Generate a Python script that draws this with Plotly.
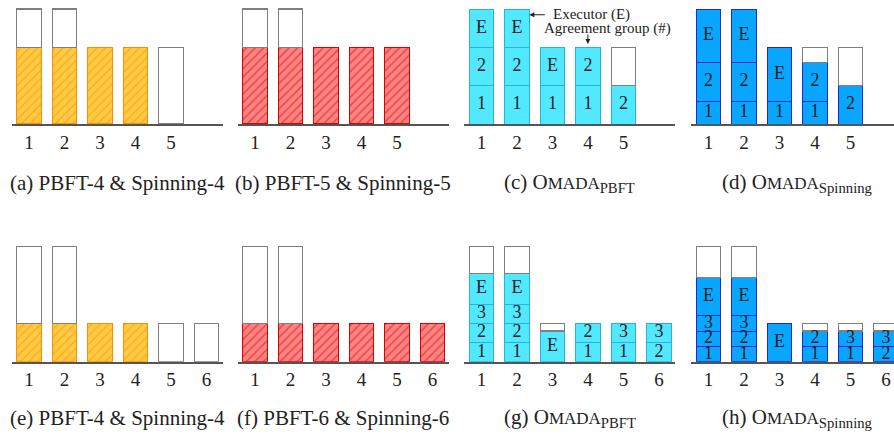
import plotly.graph_objects as go

# ---------------- data ----------------
slots5 = [1, 2, 3, 4, 5]
slots6 = [1, 2, 3, 4, 5, 6]

# (a) PBFT-4 & Spinning-4 (5 servers)
cap_a = [3, 3, 2, 2, 2]
used_a = [2, 2, 2, 2, 0]
# (b) PBFT-5 & Spinning-5
cap_b = [3, 3, 2, 2, 2]
used_b = [2, 2, 2, 2, 2]
# (c) OMADA_PBFT : stacked blocks per server (bottom -> top)
cap_c = [3, 3, 2, 2, 2]
blocks_c = [[1, 1, 1], [1, 1, 1], [1, 1], [1, 1], [1]]
labels_c = [["1", "2", "E"], ["1", "2", "E"], ["1", "E"], ["1", "2"], ["2"]]
# (d) OMADA_Spinning
cap_d = [3, 3, 2, 2, 2]
blocks_d = [[0.6, 1, 1.4], [0.6, 1, 1.4], [0.6, 1.4], [0.6, 1], [1]]
labels_d = [["1", "2", "E"], ["1", "2", "E"], ["1", "E"], ["1", "2"], ["2"]]

# (e) PBFT-4 & Spinning-4 (6 servers)
cap_e = [6, 6, 2, 2, 2, 2]
used_e = [2, 2, 2, 2, 0, 0]
# (f) PBFT-6 & Spinning-6
cap_f = [6, 6, 2, 2, 2, 2]
used_f = [2, 2, 2, 2, 2, 2]
# (g) OMADA_PBFT
cap_g = [6, 6, 2, 2, 2, 2]
blocks_g = [[1, 1, 1, 1.6], [1, 1, 1, 1.6], [1.6], [1, 1], [1, 1], [1, 1]]
labels_g = [["1", "2", "3", "E"], ["1", "2", "3", "E"], ["E"], ["1", "2"], ["1", "3"], ["2", "3"]]
# (h) OMADA_Spinning
cap_h = [6, 6, 2, 2, 2, 2]
blocks_h = [[0.8, 0.8, 0.8, 2], [0.8, 0.8, 0.8, 2], [2], [0.8, 0.8], [0.8, 0.8], [0.8, 0.8]]
labels_h = [["1", "2", "3", "E"], ["1", "2", "3", "E"], ["E"], ["1", "2"], ["1", "3"], ["2", "3"]]

SC = "<span style='font-size:17px'>MADA</span>"
captions = [
    "(a) PBFT-4 &amp; Spinning-4",
    "(b) PBFT-5 &amp; Spinning-5",
    "(c) O" + SC + "<sub>PBFT</sub>",
    "(d) O" + SC + "<sub>Spinning</sub>",
    "(e) PBFT-4 &amp; Spinning-4",
    "(f) PBFT-6 &amp; Spinning-6",
    "(g) O" + SC + "<sub>PBFT</sub>",
    "(h) O" + SC + "<sub>Spinning</sub>",
]

# ---------------- style ----------------
W, H = 894, 435
FONT = "Liberation Serif"
TXT = "#222222"
WHITE_LINE = "#7f7f7f"
ORANGE = dict(bg="#FFCB45", fg="#FF8C00", line="#FF8C00")
RED = dict(bg="#FF8585", fg="#DD0000", line="#DD0000")
CYAN = dict(bg="#52E8FF", line="#26B4DC")
BLUE = dict(bg="#08A6FF", line="#1A28DD")
BAR_W = 0.69

# pixel layout (window coordinates)
x_left = [11.7, 237.7, 464.0, 691.0]
x_right = [222.7, 448.7, 675.0, 894.0]
cap_center = [117.5, 343.2, 569.5, 797.0]
unit_px = 35.5
rows = [
    dict(base=124.0, unit=38.33, ymax=3.08, cap_y=182.5),
    dict(base=361.7, unit=19.17, ymax=6.2, cap_y=418.0),
]


def fx(px):
    return min(1.0, max(0.0, px / W))


def fy(py):
    return min(1.0, max(0.0, 1 - py / H))


fig = go.Figure()
layout = dict()


def axis_names(i):
    n = "" if i == 0 else str(i + 1)
    return "x" + n, "y" + n, "xaxis" + n, "yaxis" + n


def none0(v):
    return [None if (x is None or x <= 1e-9) else x for x in v]


def add_hatched(i, slots, cap, used, c):
    xr, yr, _, _ = axis_names(i)
    fig.add_trace(go.Bar(
        x=slots, y=none0(used), width=BAR_W, xaxis=xr, yaxis=yr,
        marker=dict(color=c["bg"], line=dict(color=c["line"], width=1.2),
                    pattern=dict(shape="/", fgcolor=c["fg"], bgcolor=c["bg"],
                                 size=6, solidity=0.25)),
        showlegend=False, hoverinfo="skip"))
    rem = [cp - u for cp, u in zip(cap, used)]
    fig.add_trace(go.Bar(
        x=slots, y=none0(rem), width=BAR_W, xaxis=xr, yaxis=yr,
        marker=dict(color="white", line=dict(color=WHITE_LINE, width=1.1)),
        showlegend=False, hoverinfo="skip"))


def add_blocks(i, slots, cap, blocks, labels, c):
    xr, yr, _, _ = axis_names(i)
    nlev = max(len(b) for b in blocks)
    for k in range(nlev):
        vals = [b[k] if k < len(b) else None for b in blocks]
        fig.add_trace(go.Bar(
            x=slots, y=none0(vals), width=BAR_W, xaxis=xr, yaxis=yr,
            marker=dict(color=c["bg"], line=dict(color=c["line"], width=1.0)),
            showlegend=False, hoverinfo="skip"))
    rem = [cp - sum(b) for cp, b in zip(cap, blocks)]
    fig.add_trace(go.Bar(
        x=slots, y=none0(rem), width=BAR_W, xaxis=xr, yaxis=yr,
        marker=dict(color="white", line=dict(color=WHITE_LINE, width=1.1)),
        showlegend=False, hoverinfo="skip"))
    tx, ty, tt = [], [], []
    for s, b, lab in zip(slots, blocks, labels):
        acc = 0
        for h, l in zip(b, lab):
            tx.append(s)
            ty.append(acc + h / 2)
            tt.append(l)
            acc += h
    fig.add_trace(go.Scatter(
        x=tx, y=ty, text=tt, mode="text", xaxis=xr, yaxis=yr, cliponaxis=False,
        textfont=dict(family=FONT, size=18, color=TXT),
        showlegend=False, hoverinfo="skip"))


add_hatched(0, slots5, cap_a, used_a, ORANGE)
add_hatched(1, slots5, cap_b, used_b, RED)
add_blocks(2, slots5, cap_c, blocks_c, labels_c, CYAN)
add_blocks(3, slots5, cap_d, blocks_d, labels_d, BLUE)
add_hatched(4, slots6, cap_e, used_e, ORANGE)
add_hatched(5, slots6, cap_f, used_f, RED)
add_blocks(6, slots6, cap_g, blocks_g, labels_g, CYAN)
add_blocks(7, slots6, cap_h, blocks_h, labels_h, BLUE)

annotations = []
for i in range(8):
    r = rows[i // 4]
    col = i % 4
    xr, yr, xa, ya = axis_names(i)
    right = x_right[col]
    width_units = (right - x_left[col]) / unit_px
    slots = slots5 if i < 4 else slots6
    layout[xa] = dict(
        domain=[fx(x_left[col]), fx(right)],
        range=[0.51, 0.51 + width_units],
        anchor=yr, showline=True, linecolor="#555555", linewidth=1.5,
        showgrid=False, zeroline=False, ticks="",
        tickmode="array", tickvals=slots, ticktext=[str(s) for s in slots],
        tickfont=dict(family=FONT, size=19, color=TXT), fixedrange=True,
    )
    top_px = r["base"] - r["ymax"] * r["unit"]
    layout[ya] = dict(
        domain=[fy(r["base"]), fy(top_px)],
        range=[0, r["ymax"]], anchor=xr, visible=False, fixedrange=True,
    )
    annotations.append(dict(
        xref="paper", yref="paper", x=fx(cap_center[col]), y=fy(r["cap_y"]),
        xanchor="center", yanchor="middle", showarrow=False, text=captions[i],
        font=dict(family=FONT, size=21, color=TXT)))

# callouts in panel (c)
annotations += [
    dict(xref="x3", yref="y3", x=2.35, y=2.85, ax=17, ay=0, text="",
         showarrow=True, arrowhead=2, arrowsize=1, arrowwidth=1, arrowcolor=TXT),
    dict(xref="x3", yref="y3", x=2.97, y=2.86, text="Executor (E)", xanchor="left",
         yanchor="middle", showarrow=False, font=dict(family=FONT, size=15, color=TXT)),
    dict(xref="x3", yref="y3", x=4.55, y=2.5, text="Agreement group (#)", xanchor="center",
         yanchor="middle", showarrow=False, font=dict(family=FONT, size=15, color=TXT)),
    dict(xref="x3", yref="y3", x=4.0, y=2.09, ax=0, ay=-11, text="",
         showarrow=True, arrowhead=2, arrowsize=1, arrowwidth=1, arrowcolor=TXT),
]

fig.update_layout(
    width=W, height=H, margin=dict(l=0, r=0, t=0, b=0),
    paper_bgcolor="white", plot_bgcolor="white", barmode="stack",
    showlegend=False, annotations=annotations, **layout)

fig.write_html(
    "out.html", config={"displayModeBar": False},
    post_script="document.body.style.margin='0px';document.body.style.overflow='hidden';")
